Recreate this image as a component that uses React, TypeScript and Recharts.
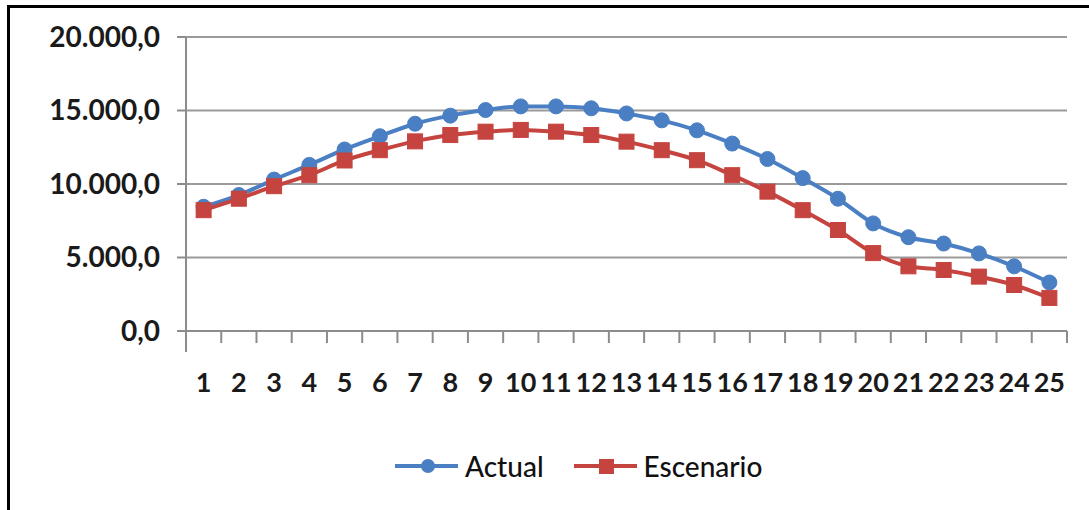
import React from "react";
import { LineChart, Line, XAxis, YAxis, CartesianGrid, Legend } from "recharts";

const periods = [1, 2, 3, 4, 5, 6, 7, 8, 9, 10, 11, 12, 13, 14, 15, 16, 17, 18, 19, 20, 21, 22, 23, 24, 25];
const actual = [8450, 9250, 10300, 11300, 12350, 13250, 14100, 14650, 15030, 15280, 15280, 15150, 14800, 14330, 13650, 12750, 11700, 10400, 9000, 7320, 6380, 5950, 5280, 4400, 3300];
const escenario = [8220, 9000, 9850, 10600, 11600, 12300, 12900, 13330, 13560, 13680, 13560, 13330, 12880, 12300, 11620, 10600, 9480, 8220, 6870, 5300, 4400, 4150, 3700, 3130, 2250];
const yTicks = [0, 5000, 10000, 15000, 20000];
const seriesNames = ["Actual", "Escenario"];

const BLUE = "#4A7FC4";
const RED = "#C5443F";
const FONT = "Lato, 'Liberation Sans', sans-serif";

const data = periods.map((p, i) => ({ x: p, actual: actual[i], escenario: escenario[i] }));
const xTicks: number[] = [];
for (let i = 0; i <= periods.length; i++) {
  xTicks.push(periods[0] - 0.5 + i);
  if (i < periods.length) xTicks.push(periods[i]);
}

const fmt = (v: number) => {
  const [intPart, dec] = v.toFixed(1).split(".");
  return intPart.replace(/\B(?=(\d{3})+(?!\d))/g, ".") + "," + dec;
};

const XTick = (props: any) => {
  const { x, y, payload, index } = props;
  const v = payload.value;
  if (Number.isInteger(v)) {
    return (
      <text x={x} y={y + 61} textAnchor="middle" fontFamily={FONT} fontWeight={700} fontSize={27} fill="#1a1a1a">
        {v}
      </text>
    );
  }
  return <line x1={x} x2={x} y1={y} y2={y + (index === 0 ? 21 : 12)} stroke="#8c8c8c" strokeWidth={2} />;
};

const CircleDot = (props: any) => {
  const { cx, cy, index } = props;
  return <circle key={`c${index}`} cx={cx} cy={cy} r={7.5} fill={BLUE} stroke={BLUE} strokeWidth={1} />;
};
const SquareDot = (props: any) => {
  const { cx, cy, index } = props;
  return <rect key={`s${index}`} x={cx - 7.5} y={cy - 7.5} width={15} height={15} fill={RED} stroke={RED} strokeWidth={1} />;
};

const LegendContent = () => {
  const items = [
    { name: seriesNames[0], color: BLUE, shape: "circle" },
    { name: seriesNames[1], color: RED, shape: "square" },
  ];
  return (
    <div style={{ display: "flex", justifyContent: "flex-start", alignItems: "center", gap: 30, paddingLeft: 395 }}>
      {items.map((it) => (
        <div key={it.name} style={{ display: "flex", alignItems: "center" }}>
          <svg width={63} height={20} style={{ marginRight: 7 }}>
            <line x1={0} x2={63} y1={10} y2={10} stroke={it.color} strokeWidth={4} />
            {it.shape === "circle" ? (
              <circle cx={33} cy={10} r={7} fill={it.color} />
            ) : (
              <rect x={25} y={3} width={15} height={15} fill={it.color} />
            )}
          </svg>
          <span style={{ fontFamily: FONT, fontSize: 28, color: "#111", fontWeight: 500 }}>{it.name}</span>
        </div>
      ))}
    </div>
  );
};

export default function App() {
  return (
    <div style={{ position: "absolute", left: 0, top: 0, width: 1089, height: 510, background: "#fff", overflow: "hidden" }}>
      <div
        style={{
          position: "absolute",
          left: 7,
          top: 5,
          width: 1100,
          height: 520,
          borderTop: "3px solid #000",
          borderLeft: "3px solid #000",
        }}
      />
      <div style={{ position: "absolute", left: 0, top: 0 }}>
        <LineChart width={1089} height={510} data={data} margin={{ top: 37, right: 22, bottom: 0, left: 0 }}>
          <CartesianGrid vertical={false} stroke="#9a9a9a" strokeWidth={2} />
          <XAxis
            dataKey="x"
            type="number"
            domain={[0.5, 25.5]}
            ticks={xTicks}
            interval={0}
            tickLine={false}
            tickSize={0}
            tickMargin={0}
            tick={<XTick />}
            height={179}
            axisLine={{ stroke: "#8c8c8c", strokeWidth: 2 }}
            allowDecimals
          />
          <YAxis
            domain={[0, 20000]}
            ticks={yTicks}
            interval={0}
            width={186}
            tickFormatter={fmt}
            tickSize={9}
            tickMargin={17}
            tick={{ fontFamily: FONT, fontWeight: 700, fontSize: 28, fill: "#1a1a1a" }}
            tickLine={{ stroke: "#8c8c8c", strokeWidth: 2 }}
            axisLine={{ stroke: "#8c8c8c", strokeWidth: 2 }}
          />
          <Legend
            layout="horizontal"
            verticalAlign="middle"
            align="center"
            content={<LegendContent />}
            wrapperStyle={{ top: 449, left: 0, width: 1089 }}
          />
          <Line
            type="monotone"
            dataKey="actual"
            name={seriesNames[0]}
            stroke={BLUE}
            strokeWidth={4}
            dot={<CircleDot />}
            activeDot={false}
            isAnimationActive={false}
          />
          <Line
            type="monotone"
            dataKey="escenario"
            name={seriesNames[1]}
            stroke={RED}
            strokeWidth={4}
            dot={<SquareDot />}
            activeDot={false}
            isAnimationActive={false}
          />
        </LineChart>
      </div>
    </div>
  );
}
